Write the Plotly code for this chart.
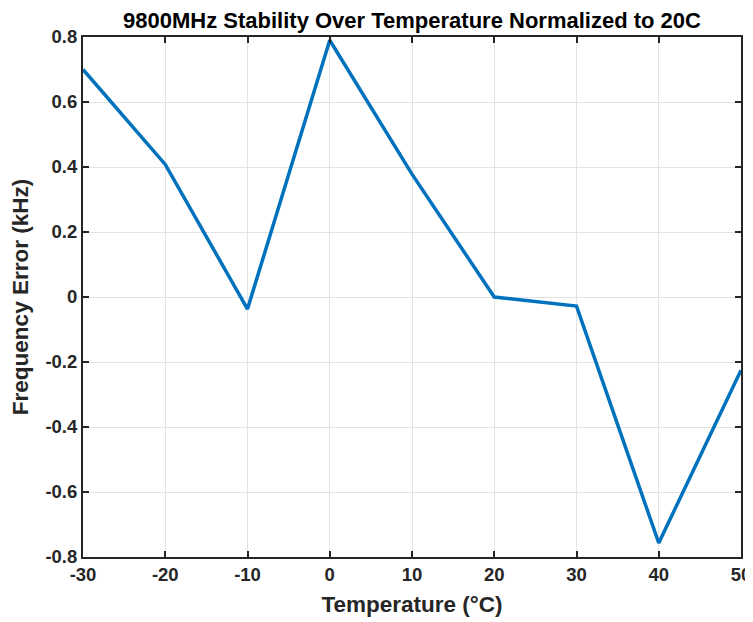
import plotly.graph_objects as go

temperature = [-30, -20, -10, 0, 10, 20, 30, 40, 50]
freq_error = [0.70, 0.408, -0.037, 0.79, 0.378, 0.0, -0.028, -0.757, -0.225]

x_ticks = [-30, -20, -10, 0, 10, 20, 30, 40, 50]
y_ticks = [-0.8, -0.6, -0.4, -0.2, 0, 0.2, 0.4, 0.6, 0.8]
y_tick_text = ["-0.8", "-0.6", "-0.4", "-0.2", "0", "0.2", "0.4", "0.6", "0.8"]

ink = "#262626"
fnt = "Liberation Sans, Arial, sans-serif"

fig = go.Figure(go.Scatter(x=temperature, y=freq_error, mode="lines",
                           line=dict(color="#0072BD", width=3.5)))

axis_common = dict(showline=True, linecolor=ink, linewidth=2, mirror="ticks",
                   ticks="inside", ticklen=6, tickwidth=2, tickcolor=ink,
                   showgrid=True, gridcolor="#e3e3e3", gridwidth=1, zeroline=False,
                   automargin=False,
                   tickfont=dict(family=fnt, size=18.5, color=ink, weight="bold"))

fig.update_xaxes(range=[-30, 50], tickvals=x_ticks, ticktext=[str(v) for v in x_ticks],
                 title=dict(text="Temperature (°C)", font=dict(family=fnt, size=22.5, color=ink, weight="bold"), standoff=12),
                 **axis_common)
fig.update_yaxes(range=[-0.8, 0.8], tickvals=y_ticks, ticktext=y_tick_text,
                 title=dict(text="Frequency Error (kHz)", font=dict(family=fnt, size=22.5, color=ink, weight="bold"), standoff=12),
                 **axis_common)

fig.update_layout(
    width=753, height=622,
    margin=dict(l=75, r=20, t=29, b=73),
    paper_bgcolor="white", plot_bgcolor="white",
    showlegend=False,
    title=dict(text="9800MHz Stability Over Temperature Normalized to 20C",
               font=dict(family=fnt, size=22, color="black", weight="bold"),
               x=0.5, xanchor="center", xref="paper", y=1 - 12 / 622, yref="container", yanchor="middle"),
)

fig.write_html("out.html")
